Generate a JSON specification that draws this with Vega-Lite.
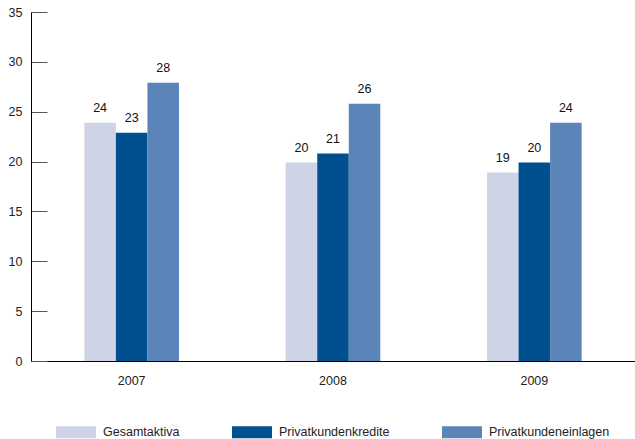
{
  "$schema": "https://vega.github.io/schema/vega-lite/v6.json",
  "width": 604,
  "height": 349,
  "autosize": "none",
  "padding": {"left": 31, "top": 12, "right": 0, "bottom": 78},
  "background": "white",
  "config": {
    "view": {"stroke": null},
    "font": "Liberation Sans"
  },
  "data": {
    "values": [
      {"year": "2007", "series": "Gesamtaktiva", "value": 23.9},
      {"year": "2007", "series": "Privatkundenkredite", "value": 22.9},
      {"year": "2007", "series": "Privatkundeneinlagen", "value": 27.9},
      {"year": "2008", "series": "Gesamtaktiva", "value": 19.9},
      {"year": "2008", "series": "Privatkundenkredite", "value": 20.8},
      {"year": "2008", "series": "Privatkundeneinlagen", "value": 25.8},
      {"year": "2009", "series": "Gesamtaktiva", "value": 18.9},
      {"year": "2009", "series": "Privatkundenkredite", "value": 19.9},
      {"year": "2009", "series": "Privatkundeneinlagen", "value": 23.9}
    ]
  },
  "encoding": {
    "x": {
      "field": "year", "type": "nominal",
      "scale": {"paddingInner": 0.53, "paddingOuter": 0.265},
      "axis": {
        "title": null, "labelAngle": 0, "ticks": false, "labelPadding": 13,
        "domainColor": "#000000", "labelColor": "#222222", "labelFontSize": 12.5,
        "labelFont": "Liberation Sans"
      }
    },
    "xOffset": {
      "field": "series", "type": "nominal",
      "sort": ["Gesamtaktiva", "Privatkundenkredite", "Privatkundeneinlagen"],
      "scale": {"paddingInner": 0, "paddingOuter": 0}
    },
    "y": {
      "field": "value", "type": "quantitative",
      "scale": {"domain": [0, 35], "nice": false},
      "axis": {
        "title": null, "values": [0, 5, 10, 15, 20, 25, 30, 35],
        "grid": false, "tickSize": -16, "labelPadding": 25,
        "tickColor": "#555555", "domainColor": "#000000",
        "labelColor": "#222222", "labelFontSize": 12.5, "labelFont": "Liberation Sans"
      }
    }
  },
  "layer": [
    {
      "mark": {"type": "bar"},
      "encoding": {
        "color": {
          "field": "series", "type": "nominal",
          "sort": ["Gesamtaktiva", "Privatkundenkredite", "Privatkundeneinlagen"],
          "scale": {
            "domain": ["Gesamtaktiva", "Privatkundenkredite", "Privatkundeneinlagen"],
            "range": ["#ced3e6", "#005090", "#5b85b8"]
          },
          "legend": {
            "title": null, "orient": "none", "direction": "horizontal",
            "legendX": 25, "legendY": 400,
            "symbolType": "M-1,-0.3H1V0.3H-1Z", "symbolSize": 1600,
            "symbolStrokeWidth": 0, "labelFontSize": 12.5, "labelColor": "#222222",
            "labelFont": "Liberation Sans", "columnPadding": 52, "labelOffset": 7
          }
        }
      }
    },
    {
      "mark": {"type": "text", "baseline": "bottom", "dy": -8, "fontSize": 12.5, "color": "#111111", "font": "Liberation Sans"},
      "encoding": {
        "text": {"field": "value", "type": "quantitative", "format": ".0f"}
      }
    }
  ]
}
